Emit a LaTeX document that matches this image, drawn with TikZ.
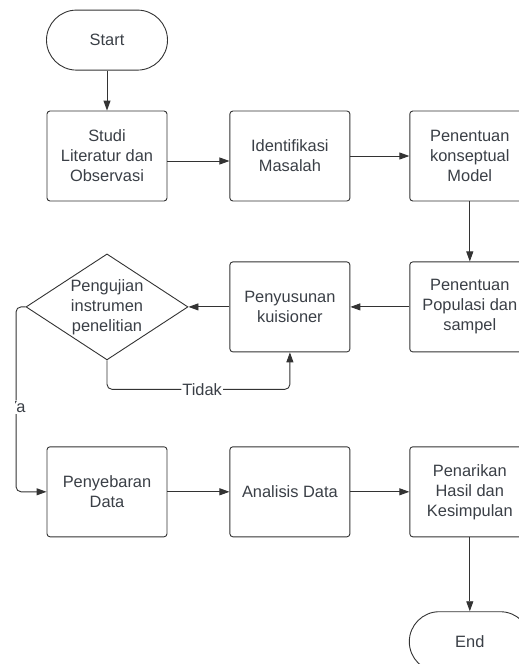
\documentclass[tikz,border=0pt]{standalone}
\usepackage{fontspec}
\setmainfont{Liberation Sans}
\usepackage{tikz}
\usetikzlibrary{arrows.meta,positioning,shapes.geometric}
\definecolor{ink}{HTML}{3A3F46}
\definecolor{edge}{HTML}{333333}
\tikzset{
  box/.style   ={rounded corners=3pt,draw=edge,line width=0.9pt,fill=white,
                 minimum width=120pt,minimum height=90pt,inner sep=2pt,
                 align=center,text=ink},
  term/.style  ={rounded corners=30pt,draw=edge,line width=0.9pt,fill=white,
                 minimum width=121pt,minimum height=60pt,align=center,text=ink},
  decide/.style={diamond,draw=edge,line width=0.9pt,fill=white,
                 minimum width=162pt,minimum height=106pt,inner sep=0pt},
  flow/.style  ={-{Triangle[length=10pt,width=7pt]},line width=0.9pt,draw=edge},
  tag/.style   ={fill=white,inner sep=1pt,text=ink}
}

\begin{document}
\begin{tikzpicture}[font=\fontsize{16.4}{20}\selectfont,node distance=62pt]
  \useasboundingbox (0,0) rectangle (519pt,-664pt);
  \clip (0,0) rectangle (519pt,-664pt);
  % baris atas
  \node[box] (studi) at (107pt,-156pt) {Studi\\Literatur dan\\Observasi};
  \node[term,above=40pt of studi] (mulai) {Start};
  \node[box,right=of studi] (identif) {Identifikasi\\Masalah};
  \node[box,right=59pt of identif] (konsep) {Penentuan\\konseptual\\Model};
  % baris tengah
  \node[box,below=60pt of konsep] (populasi) {Penentuan\\Populasi dan\\sampel};
  \node[box,below=60pt of identif] (susun) {Penyusunan\\kuisioner};
  \node[decide,left=41pt of susun,
        label={[text=ink,align=center]center:Pengujian\\instrumen\\penelitian}] (uji) {};
  % baris bawah
  \node[box,below=94pt of susun] (analisis) {Analisis Data};
  \node[box,left=of analisis] (sebar) {Penyebaran\\Data};
  \node[box,right=59pt of analisis] (tarik) {Penarikan\\Hasil dan\\Kesimpulan};
  \node[term,below=74pt of tarik] (selesai) {End};

  \draw[flow] (mulai) -- (studi);
  \draw[flow] ([yshift=-5pt]studi.east) -- ([yshift=-5pt]identif.west);
  \draw[flow] (identif) -- (konsep);
  \draw[flow] (konsep) -- (populasi);
  \draw[flow] (populasi) -- (susun);
  \draw[flow] (susun) -- (uji);
  \draw[flow,rounded corners=5pt] (uji.south) -- ++(0,-29pt)
        -| node[tag,pos=0.26]{Tidak} (susun.south);
  \draw[flow,rounded corners=5pt] (uji.west) -- ++(-9.5pt,0) |- (sebar.west);
  \begin{scope}
    \clip (15pt,-380pt) rectangle (40pt,-430pt);
    \node[tag] (ya) at ([xshift=-9.5pt,yshift=-100pt]uji.west) {Ya};
  \end{scope}
  \draw[flow] (sebar) -- (analisis);
  \draw[flow] (analisis) -- (tarik);
  \draw[flow] (tarik) -- (selesai);
\end{tikzpicture}
\end{document}
